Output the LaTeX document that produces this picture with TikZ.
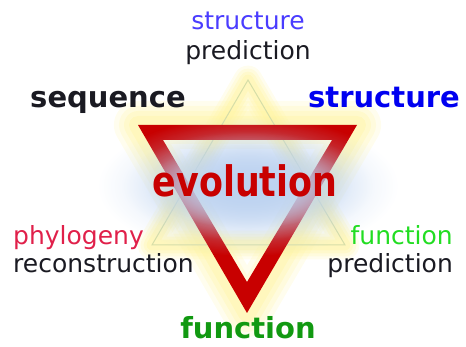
\documentclass[tikz,border=0pt]{standalone}
\usepackage{fontspec}
\setmainfont{DejaVu Sans}
\usetikzlibrary{fadings}

\definecolor{rouge}{HTML}{C80000}
\definecolor{noirtxt}{HTML}{1A1A22}
\definecolor{bleufort}{HTML}{0000F0}
\definecolor{bleuclair}{HTML}{4A3CFF}
\definecolor{vertfonce}{HTML}{119911}
\definecolor{vertclair}{HTML}{22DD22}
\definecolor{rougephylo}{HTML}{E0204A}
\definecolor{halo}{HTML}{FFF4A0}
\definecolor{bleuglow}{HTML}{BCD2F0}
\definecolor{trait}{HTML}{D6DEA8}

\tikzfading[name=flou, inner color=transparent!0, outer color=transparent!100]

\tikzset{
  titre/.style={font=\bfseries\fontsize{29}{29}\selectfont, inner sep=0pt, anchor=base},
  etiq/.style={font=\fontsize{25}{25}\selectfont, inner sep=0pt, text=noirtxt},
}

\begin{document}
\begin{tikzpicture}[x=1pt,y=-1pt]
	\useasboundingbox (0,0) rectangle (466,347);

	% Halo jaune autour des triangles
	\foreach \w/\o in {48/0.18,38/0.22,28/0.28,18/0.35}{
		\draw[halo, line width=\w pt, opacity=\o, line join=round]
		(138,125) -- (357,125) -- (247,313) -- cycle;
		\draw[halo, line width=0.6*\w pt, opacity=\o, line join=round]
		(248,80) -- (152,245) -- (345,245) -- cycle;
	}

	% Triangle pale (pointe en haut)
	\draw[trait, line width=1pt] (248,80) -- (152,245) -- (345,245) -- cycle;

	% Triangle rouge (pointe en bas)
	\fill[rouge, even odd rule]
	(138,125) -- (357,125) -- (247,313) -- cycle
	(163,140) -- (332,140) -- (247,282) -- cycle;

	% Lueur bleue au centre
	\foreach \rx/\ry in {150/70,125/55,105/42}{
		\fill[bleuglow, path fading=flou, opacity=0.9]
		(248,186) ellipse [x radius=\rx, y radius=\ry];
	}

	% Texte central
	\node[font=\bfseries\fontsize{42}{42}\selectfont, text=rouge, anchor=base, inner sep=0pt]
	(evolution) at (245,197) {\scalebox{0.83}[1]{evolution}};

	% Sommets
	\node[titre, text=noirtxt] (sequence) at (108,108) {sequence};
	\node[titre, text=bleufort] (structure) at (384,108) {structure};
	\node[titre, text=vertfonce] (function) at (248,338) {function};

	% Labels des aretes
	\node[etiq, anchor=base, text=bleuclair] (predstruct) at (248,30) {structure};
	\node[etiq, anchor=base] (predstructb) at (248,60) {prediction};
	\node[etiq, anchor=base west, text=rougephylo] (phylo) at (13,245) {phylogeny};
	\node[etiq, anchor=base west] (recons) at (13,273) {reconstruction};
	\node[etiq, anchor=base east, text=vertclair] (predfunc) at (453,245) {function};
	\node[etiq, anchor=base east] (predfuncb) at (453,273) {prediction};

\end{tikzpicture}
\end{document}
